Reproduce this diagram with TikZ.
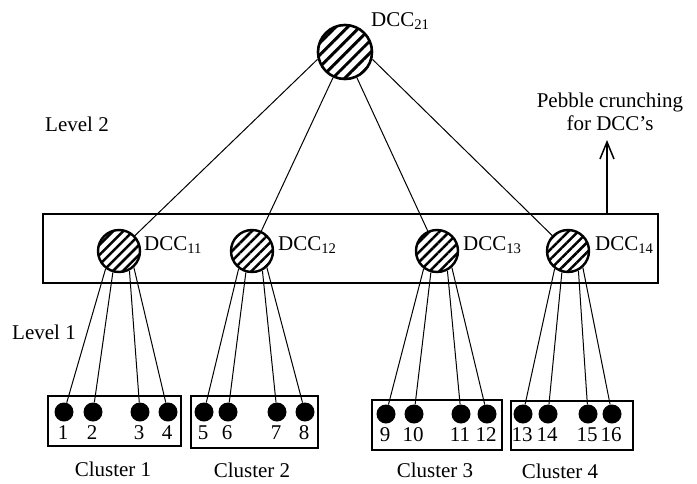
\documentclass[tikz,border=0pt]{standalone}
\usepackage{fontspec}
\setmainfont{Liberation Serif}
\usetikzlibrary{patterns.meta,arrows.meta}
\begin{document}
\begin{tikzpicture}[x=1pt,y=-1pt,
  txt/.style={font=\fontsize{21}{23}\selectfont, inner sep=0pt},
  topdcc/.style={circle, draw, line width=2.6pt, minimum size=54pt, inner sep=0pt,
    pattern={Lines[angle=45,distance=8.5pt,line width=3pt]}},
  dcc/.style={circle, draw, line width=2.4pt, minimum size=42pt, inner sep=0pt,
    pattern={Lines[angle=45,distance=7pt,line width=2.5pt]}},
  pebble/.style={circle, fill=black, minimum size=19pt, inner sep=0pt},
  clusterbox/.style={draw, line width=1.8pt, inner sep=0pt},
  link/.style={line width=1pt},
]
\useasboundingbox (0,0) rectangle (697,483);

% level-2 frame holding the first-level DCCs
\node[draw, line width=1.6pt, minimum width=615pt, minimum height=69pt, inner sep=0pt] (frame) at (350.5,248.5) {};

% DCC nodes
\node[topdcc] (dcc21) at (345,52) {};
\node[dcc] (dcc11) at (119,251) {};
\node[dcc] (dcc12) at (252,251) {};
\node[dcc] (dcc13) at (437,251) {};
\node[dcc] (dcc14) at (568,251) {};

\node[txt, anchor=base west] (l21) at (371,26) {DCC\textsubscript{21}};
\node[txt, anchor=base west] (l11) at (144,250) {DCC\textsubscript{11}};
\node[txt, anchor=base west] (l12) at (278,250) {DCC\textsubscript{12}};
\node[txt, anchor=base west] (l13) at (463,250) {DCC\textsubscript{13}};
\node[txt, anchor=base west] (l14) at (595,250) {DCC\textsubscript{14}};

% level labels
\node[txt, anchor=base west] (lev2) at (45,131) {Level 2};
\node[txt, anchor=base east] (lev1) at (76,339) {Level 1};

% pebble crunching arrow
\node[txt, align=center, anchor=north] (pc) at (610,93) {Pebble crunching\\for DCC's};
\coordinate (ptop) at (607,140);
\draw[line width=1.8pt, -{Straight Barb[length=17pt,width=14pt,line width=1.5pt]}] (ptop |- frame.north) -- (ptop);

% clusters
\node[clusterbox, minimum width=133pt, minimum height=50pt] (c1) at (114.5,421) {};
\node[clusterbox, minimum width=127pt, minimum height=52pt] (c2) at (254.5,422) {};
\node[clusterbox, minimum width=130pt, minimum height=50pt] (c3) at (437,425) {};
\node[clusterbox, minimum width=122pt, minimum height=49pt] (c4) at (572,425.5) {};

\foreach \i/\x/\y in {1/64/412, 2/93/412, 3/140/412, 4/168/412,
                      5/204/412, 6/228/412, 7/277/412, 8/305/412,
                      9/386/414, 10/414/414, 11/461/414, 12/487/414,
                      13/523/414, 14/548/414, 15/588/414, 16/612/414} {
  \node[pebble] (p\i) at (\x,\y) {};
  \node[txt, anchor=base] (n\i) at (\x-1,\y+27) {\i};
}

\node[txt, anchor=base] (cl1) at (113,476) {Cluster 1};
\node[txt, anchor=base] (cl2) at (252,477) {Cluster 2};
\node[txt, anchor=base] (cl3) at (435,477) {Cluster 3};
\node[txt, anchor=base] (cl4) at (560,478) {Cluster 4};

% level-2 links
\draw[link] (dcc21.195) -- (dcc11);
\draw[link] (dcc21) -- (dcc12);
\draw[link] (dcc21) -- (dcc13);
\draw[link] (dcc21.-15) -- (dcc14);

% level-1 links
\foreach \d/\a/\b/\c/\e in {11/1/2/3/4, 12/5/6/7/8, 13/9/10/11/12, 14/13/14/15/16} {
  \draw[link] (dcc\d.233) -- (p\a);
  \draw[link] (dcc\d.254) -- (p\b);
  \draw[link] (dcc\d.298) -- (p\c);
  \draw[link] (dcc\d.312) -- (p\e);
}
\end{tikzpicture}
\end{document}
